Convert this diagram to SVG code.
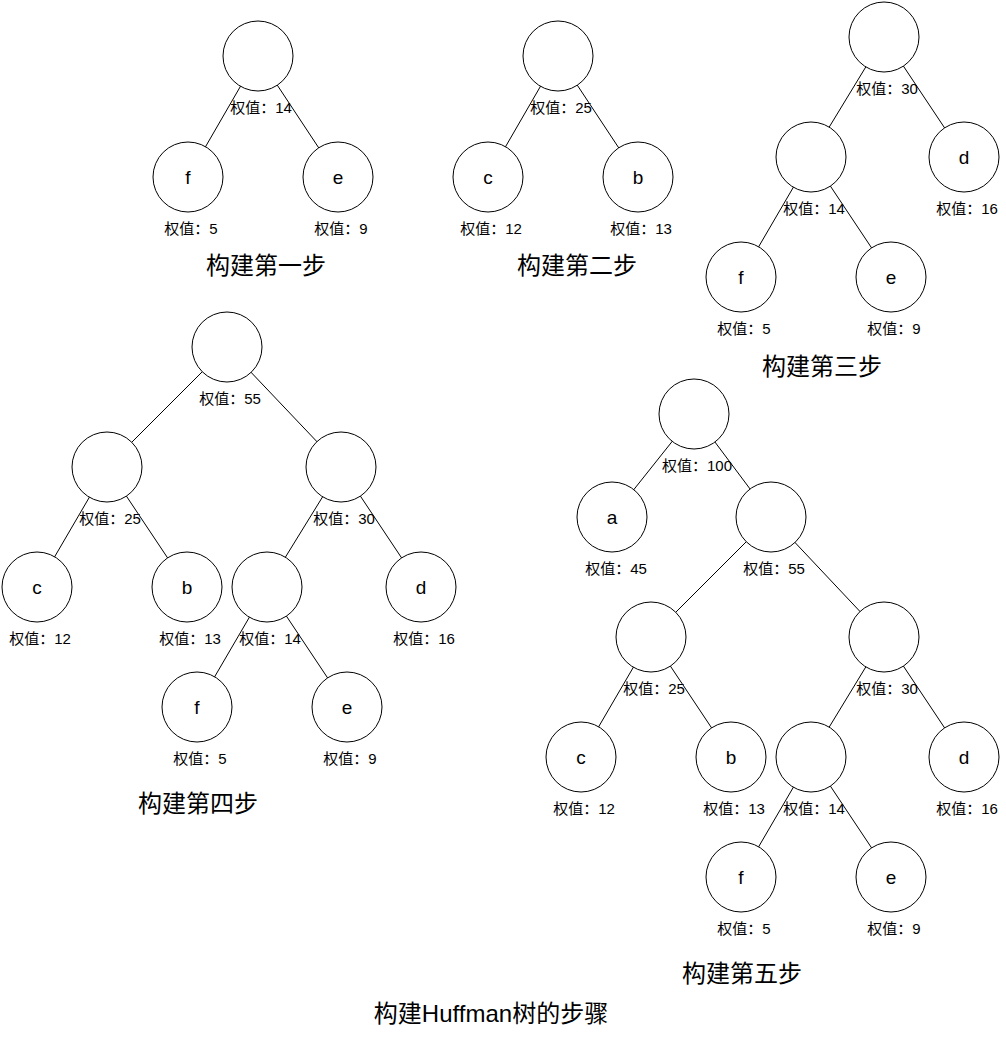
<svg xmlns="http://www.w3.org/2000/svg" width="1006" height="1037" viewBox="0 0 1006 1037">
<style>
.n{fill:#fff;stroke:#000;stroke-width:1}
.e{stroke:#000;stroke-width:1;fill:none}
.l{font-family:"Liberation Sans","Noto Sans CJK SC",sans-serif;font-size:19px;text-anchor:middle;fill:#000}
.w{font-family:"Liberation Sans","Noto Sans CJK SC",sans-serif;font-size:15px;text-anchor:middle;fill:#000}
.t{font-family:"Liberation Sans","Noto Sans CJK SC",sans-serif;font-size:24px;text-anchor:middle;fill:#000}
.b{font-family:"Liberation Sans","Noto Sans CJK SC",sans-serif;font-size:24px;text-anchor:middle;fill:#000}
</style>
<rect width="1006" height="1037" fill="#fff"/>
<g id="connectors">
<line class="e" x1="258" y1="56" x2="188" y2="177"/>
<line class="e" x1="258" y1="56" x2="338" y2="177"/>
<line class="e" x1="558" y1="56" x2="488" y2="177"/>
<line class="e" x1="558" y1="56" x2="638" y2="177"/>
<line class="e" x1="884" y1="37" x2="811" y2="157"/>
<line class="e" x1="884" y1="37" x2="964" y2="157"/>
<line class="e" x1="811" y1="157" x2="741" y2="277"/>
<line class="e" x1="811" y1="157" x2="891" y2="277"/>
<line class="e" x1="227" y1="347" x2="107" y2="467"/>
<line class="e" x1="227" y1="347" x2="341" y2="467"/>
<line class="e" x1="107" y1="467" x2="37" y2="587"/>
<line class="e" x1="107" y1="467" x2="187" y2="587"/>
<line class="e" x1="341" y1="467" x2="267" y2="587"/>
<line class="e" x1="341" y1="467" x2="421" y2="587"/>
<line class="e" x1="267" y1="587" x2="197" y2="707"/>
<line class="e" x1="267" y1="587" x2="347" y2="707"/>
<line class="e" x1="694" y1="414" x2="612" y2="517"/>
<line class="e" x1="694" y1="414" x2="771" y2="517"/>
<line class="e" x1="771" y1="517" x2="651" y2="637"/>
<line class="e" x1="771" y1="517" x2="884" y2="637"/>
<line class="e" x1="651" y1="637" x2="581" y2="757"/>
<line class="e" x1="651" y1="637" x2="731" y2="757"/>
<line class="e" x1="884" y1="637" x2="811" y2="757"/>
<line class="e" x1="884" y1="637" x2="964" y2="757"/>
<line class="e" x1="811" y1="757" x2="741" y2="877"/>
<line class="e" x1="811" y1="757" x2="891" y2="877"/>
</g>
<!-- Step 1 -->
<g id="s1-root"><circle class="n" cx="258" cy="56" r="35"/><text class="w" x="261" y="113">权值：14</text></g>
<g id="s1-f"><circle class="n" cx="188" cy="177" r="35"/><text class="l" x="188" y="184">f</text><text class="w" x="191" y="234">权值：5</text></g>
<g id="s1-e"><circle class="n" cx="338" cy="177" r="35"/><text class="l" x="338" y="184">e</text><text class="w" x="341" y="234">权值：9</text></g>
<text class="t" x="266" y="274">构建第一步</text>
<!-- Step 2 -->
<g id="s2-root"><circle class="n" cx="558" cy="56" r="35"/><text class="w" x="561" y="113">权值：25</text></g>
<g id="s2-c"><circle class="n" cx="488" cy="177" r="35"/><text class="l" x="488" y="184">c</text><text class="w" x="491" y="234">权值：12</text></g>
<g id="s2-b"><circle class="n" cx="638" cy="177" r="35"/><text class="l" x="638" y="184">b</text><text class="w" x="641" y="234">权值：13</text></g>
<text class="t" x="577" y="274">构建第二步</text>
<!-- Step 3 -->
<g id="s3-root"><circle class="n" cx="884" cy="37" r="35"/><text class="w" x="887" y="94">权值：30</text></g>
<g id="s3-m"><circle class="n" cx="811" cy="157" r="35"/><text class="w" x="814" y="214">权值：14</text></g>
<g id="s3-d"><circle class="n" cx="964" cy="157" r="35"/><text class="l" x="964" y="164">d</text><text class="w" x="967" y="214">权值：16</text></g>
<g id="s3-f"><circle class="n" cx="741" cy="277" r="35"/><text class="l" x="741" y="284">f</text><text class="w" x="744" y="334">权值：5</text></g>
<g id="s3-e"><circle class="n" cx="891" cy="277" r="35"/><text class="l" x="891" y="284">e</text><text class="w" x="894" y="334">权值：9</text></g>
<text class="t" x="822" y="375">构建第三步</text>
<!-- Step 4 -->
<g id="s4-root"><circle class="n" cx="227" cy="347" r="35"/><text class="w" x="230" y="404">权值：55</text></g>
<g id="s4-l"><circle class="n" cx="107" cy="467" r="35"/><text class="w" x="110" y="524">权值：25</text></g>
<g id="s4-r"><circle class="n" cx="341" cy="467" r="35"/><text class="w" x="344" y="524">权值：30</text></g>
<g id="s4-c"><circle class="n" cx="37" cy="587" r="35"/><text class="l" x="37" y="594">c</text><text class="w" x="40" y="644">权值：12</text></g>
<g id="s4-b"><circle class="n" cx="187" cy="587" r="35"/><text class="l" x="187" y="594">b</text><text class="w" x="190" y="644">权值：13</text></g>
<g id="s4-m"><circle class="n" cx="267" cy="587" r="35"/><text class="w" x="270" y="644">权值：14</text></g>
<g id="s4-d"><circle class="n" cx="421" cy="587" r="35"/><text class="l" x="421" y="594">d</text><text class="w" x="424" y="644">权值：16</text></g>
<g id="s4-f"><circle class="n" cx="197" cy="707" r="35"/><text class="l" x="197" y="714">f</text><text class="w" x="200" y="764">权值：5</text></g>
<g id="s4-e"><circle class="n" cx="347" cy="707" r="35"/><text class="l" x="347" y="714">e</text><text class="w" x="350" y="764">权值：9</text></g>
<text class="t" x="198" y="812">构建第四步</text>
<!-- Step 5 -->
<g id="s5-root"><circle class="n" cx="694" cy="414" r="35"/><text class="w" x="697" y="471">权值：100</text></g>
<g id="s5-a"><circle class="n" cx="612" cy="517" r="35"/><text class="l" x="612" y="524">a</text><text class="w" x="616" y="574">权值：45</text></g>
<g id="s5-r"><circle class="n" cx="771" cy="517" r="35"/><text class="w" x="774" y="574">权值：55</text></g>
<g id="s5-l"><circle class="n" cx="651" cy="637" r="35"/><text class="w" x="654" y="694">权值：25</text></g>
<g id="s5-rr"><circle class="n" cx="884" cy="637" r="35"/><text class="w" x="887" y="694">权值：30</text></g>
<g id="s5-c"><circle class="n" cx="581" cy="757" r="35"/><text class="l" x="581" y="764">c</text><text class="w" x="584" y="814">权值：12</text></g>
<g id="s5-b"><circle class="n" cx="731" cy="757" r="35"/><text class="l" x="731" y="764">b</text><text class="w" x="734" y="814">权值：13</text></g>
<g id="s5-m"><circle class="n" cx="811" cy="757" r="35"/><text class="w" x="814" y="814">权值：14</text></g>
<g id="s5-d"><circle class="n" cx="964" cy="757" r="35"/><text class="l" x="964" y="764">d</text><text class="w" x="967" y="814">权值：16</text></g>
<g id="s5-f"><circle class="n" cx="741" cy="877" r="35"/><text class="l" x="741" y="884">f</text><text class="w" x="744" y="934">权值：5</text></g>
<g id="s5-e"><circle class="n" cx="891" cy="877" r="35"/><text class="l" x="891" y="884">e</text><text class="w" x="894" y="934">权值：9</text></g>
<text class="t" x="742" y="982">构建第五步</text>
<text class="b" x="491" y="1022">构建Huffman树的步骤</text>
</svg>
